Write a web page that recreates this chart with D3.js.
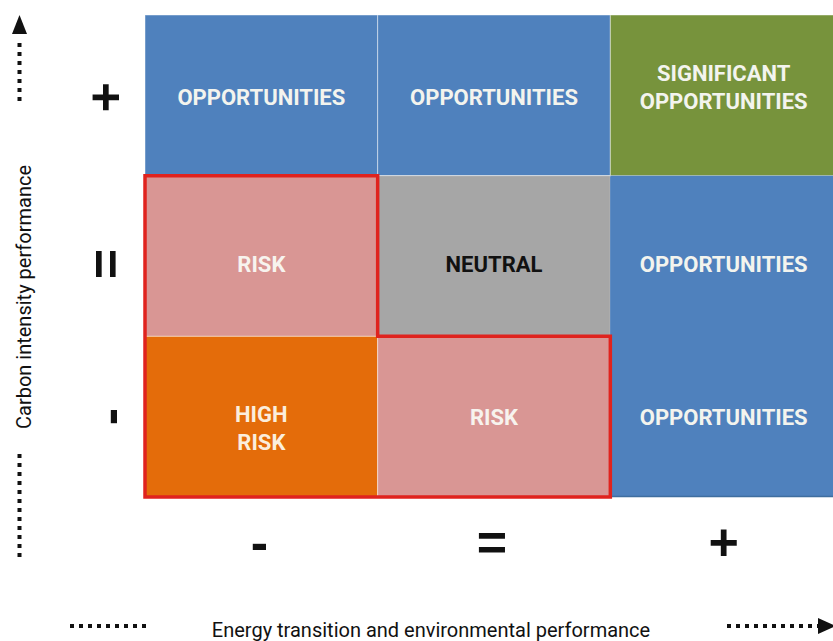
<!DOCTYPE html>
<html>
<head>
<meta charset="utf-8">
<script src="https://cdn.jsdelivr.net/npm/d3@7"></script>
<style>
  html, body { margin: 0; padding: 0; background: #ffffff; }
  svg { display: block; }
</style>
</head>
<body>
<svg id="chart" width="833" height="641"></svg>
<script>
// ---------------- DATA ----------------
const columnLevels = ["-", "=", "+"];          // energy transition performance
const rowLevels = ["+", "=", "-"];             // carbon intensity performance (top to bottom)
const cellLabels = [
  ["OPPORTUNITIES", "OPPORTUNITIES", "SIGNIFICANT|OPPORTUNITIES"],
  ["RISK", "NEUTRAL", "OPPORTUNITIES"],
  ["HIGH|RISK", "RISK", "OPPORTUNITIES"]
];
const cellClasses = [
  ["opportunity", "opportunity", "significant"],
  ["risk", "neutral", "opportunity"],
  ["highrisk", "risk", "opportunity"]
];
const xAxisTitle = "Energy transition and environmental performance";
const yAxisTitle = "Carbon intensity performance";

// ---------------- STYLE / LAYOUT ----------------
const W = 833, H = 641;
const classFill = {
  opportunity: "#4F81BD",
  significant: "#77933C",
  risk: "#D99694",
  neutral: "#A6A6A6",
  highrisk: "#E46C0A"
};
const classText = {
  opportunity: "#F3F4EE",
  significant: "#F3F4EE",
  risk: "#F7F3EE",
  neutral: "#111111",
  highrisk: "#FBEEDD"
};
// small per-row label nudges (layout only)
const rowLabelNudge = { "+": 2, "=": 8, "-": 0 };
const multiLineNudge = { significant: -10, highrisk: 11 };

const svg = d3.select("#chart");

const x = d3.scaleBand().domain(columnLevels).range([145, 843]).paddingInner(0).paddingOuter(0);
const y = d3.scaleBand().domain(rowLevels).range([15, 497]).paddingInner(0).paddingOuter(0);

// build cell table from arrays
const cells = [];
rowLevels.forEach((r, ri) => {
  columnLevels.forEach((c, ci) => {
    cells.push({ row: r, col: c, label: cellLabels[ri][ci].split("|"), cls: cellClasses[ri][ci] });
  });
});

const gCells = svg.append("g");
gCells.selectAll("rect")
  .data(cells)
  .join("rect")
  .attr("x", d => x(d.col))
  .attr("y", d => y(d.row))
  .attr("width", x.bandwidth())
  .attr("height", y.bandwidth())
  .attr("fill", d => classFill[d.cls])
  .attr("stroke", d => d.cls === "opportunity" && d.col === "+" ? "none" : "rgba(255,255,255,0.45)")
  .attr("stroke-width", 1);

// merge the right-hand opportunity column (rows = and -) visually: cover seam
gCells.append("rect")
  .attr("x", x("+"))
  .attr("y", y("=") + 1)
  .attr("width", x.bandwidth())
  .attr("height", y.bandwidth() * 2 - 2)
  .attr("fill", classFill.opportunity);

// bottom edge of right opportunity block (darker line)
gCells.append("line")
  .attr("x1", x("+")).attr("x2", x("+") + x.bandwidth())
  .attr("y1", y("-") + y.bandwidth() - 0.5).attr("y2", y("-") + y.bandwidth() - 0.5)
  .attr("stroke", "#3F6E9F").attr("stroke-width", 1.5);

// red L-shaped outline around risk zone
const x0 = x("-"), x1 = x("="), x2 = x("+");
const yA = y("="), yB = y("-"), yC = y("-") + y.bandwidth();
svg.append("path")
  .attr("d", `M${x0},${yA} L${x1},${yA} L${x1},${yB} L${x2},${yB} L${x2},${yC} L${x0},${yC} Z`)
  .attr("fill", "none")
  .attr("stroke", "#E0231E")
  .attr("stroke-width", 3.5)
  .attr("stroke-linejoin", "miter");

// cell labels
const lineH = 28;
const gLabels = svg.append("g")
  .attr("font-family", "Roboto, 'Liberation Sans', Arial, sans-serif")
  .attr("font-weight", 700)
  .attr("font-size", 22)
  .attr("text-anchor", "middle");

gLabels.selectAll("text")
  .data(cells)
  .join("text")
  .attr("fill", d => classText[d.cls])
  .attr("transform", d => {
    const cx = x(d.col) + (d.col === "+" ? (833 - x(d.col)) / 2 + 2 : x.bandwidth() / 2);
    const cy = y(d.row) + y.bandwidth() / 2 + rowLabelNudge[d.row] + (multiLineNudge[d.cls] || 0);
    return `translate(${cx},${cy})`;
  })
  .each(function(d) {
    const t = d3.select(this);
    const n = d.label.length;
    d.label.forEach((line, i) => {
      t.append("tspan")
        .attr("x", 0)
        .attr("y", (i - (n - 1) / 2) * lineH + 8)
        .text(line);
    });
  });

// axis level symbols
const symFont = "'Liberation Sans', Arial, sans-serif";
svg.append("g")
  .selectAll("text")
  .data(columnLevels)
  .join("text")
  .attr("x", d => x(d) + (d === "+" ? (833 - x(d)) / 2 + 2 : x.bandwidth() / 2 - 2))
  .attr("y", 544)
  .attr("dy", "0.3em")
  .attr("text-anchor", "middle")
  .attr("font-family", symFont)
  .attr("font-weight", 700)
  .attr("font-size", 52)
  .attr("fill", "#111")
  .text(d => d);

svg.append("g")
  .selectAll("text")
  .data(rowLevels)
  .join("text")
  .attr("transform", d => `translate(${d === "-" ? 111 : 107},${y(d) + y.bandwidth() / 2 + rowLabelNudge[d]}) rotate(-90)`)
  .attr("dy", "0.3em")
  .attr("text-anchor", "middle")
  .attr("font-family", symFont)
  .attr("font-weight", 700)
  .attr("font-size", 52)
  .attr("fill", "#111")
  .text(d => d);

// axis titles
svg.append("text")
  .attr("x", 431)
  .attr("y", 637)
  .attr("text-anchor", "middle")
  .attr("font-family", "Roboto, 'Liberation Sans', Arial, sans-serif")
  .attr("font-size", 20)
  .attr("fill", "#111")
  .text(xAxisTitle);

svg.append("text")
  .attr("transform", "translate(31,297) rotate(-90)")
  .attr("text-anchor", "middle")
  .attr("font-family", "Roboto, 'Liberation Sans', Arial, sans-serif")
  .attr("font-size", 20)
  .attr("fill", "#111")
  .text(yAxisTitle);

// dotted arrows
const dotStyle = sel => sel.attr("stroke", "#111").attr("stroke-width", 4).attr("stroke-dasharray", "4 5").attr("fill", "none");
svg.append("line").attr("x1", 19.5).attr("x2", 19.5).attr("y1", 101).attr("y2", 38).call(dotStyle);
svg.append("path").attr("d", "M19.5,15 L27,34 L12,34 Z").attr("fill", "#111");
svg.append("line").attr("x1", 19.5).attr("x2", 19.5).attr("y1", 454).attr("y2", 558).call(dotStyle);
svg.append("line").attr("x1", 70).attr("x2", 148).attr("y1", 626).attr("y2", 626).call(dotStyle);
svg.append("line").attr("x1", 727).attr("x2", 821).attr("y1", 626).attr("y2", 626).call(dotStyle);
svg.append("path").attr("d", "M836,626 L818,618 L818,634 Z").attr("fill", "#111");
</script>
</body>
</html>
